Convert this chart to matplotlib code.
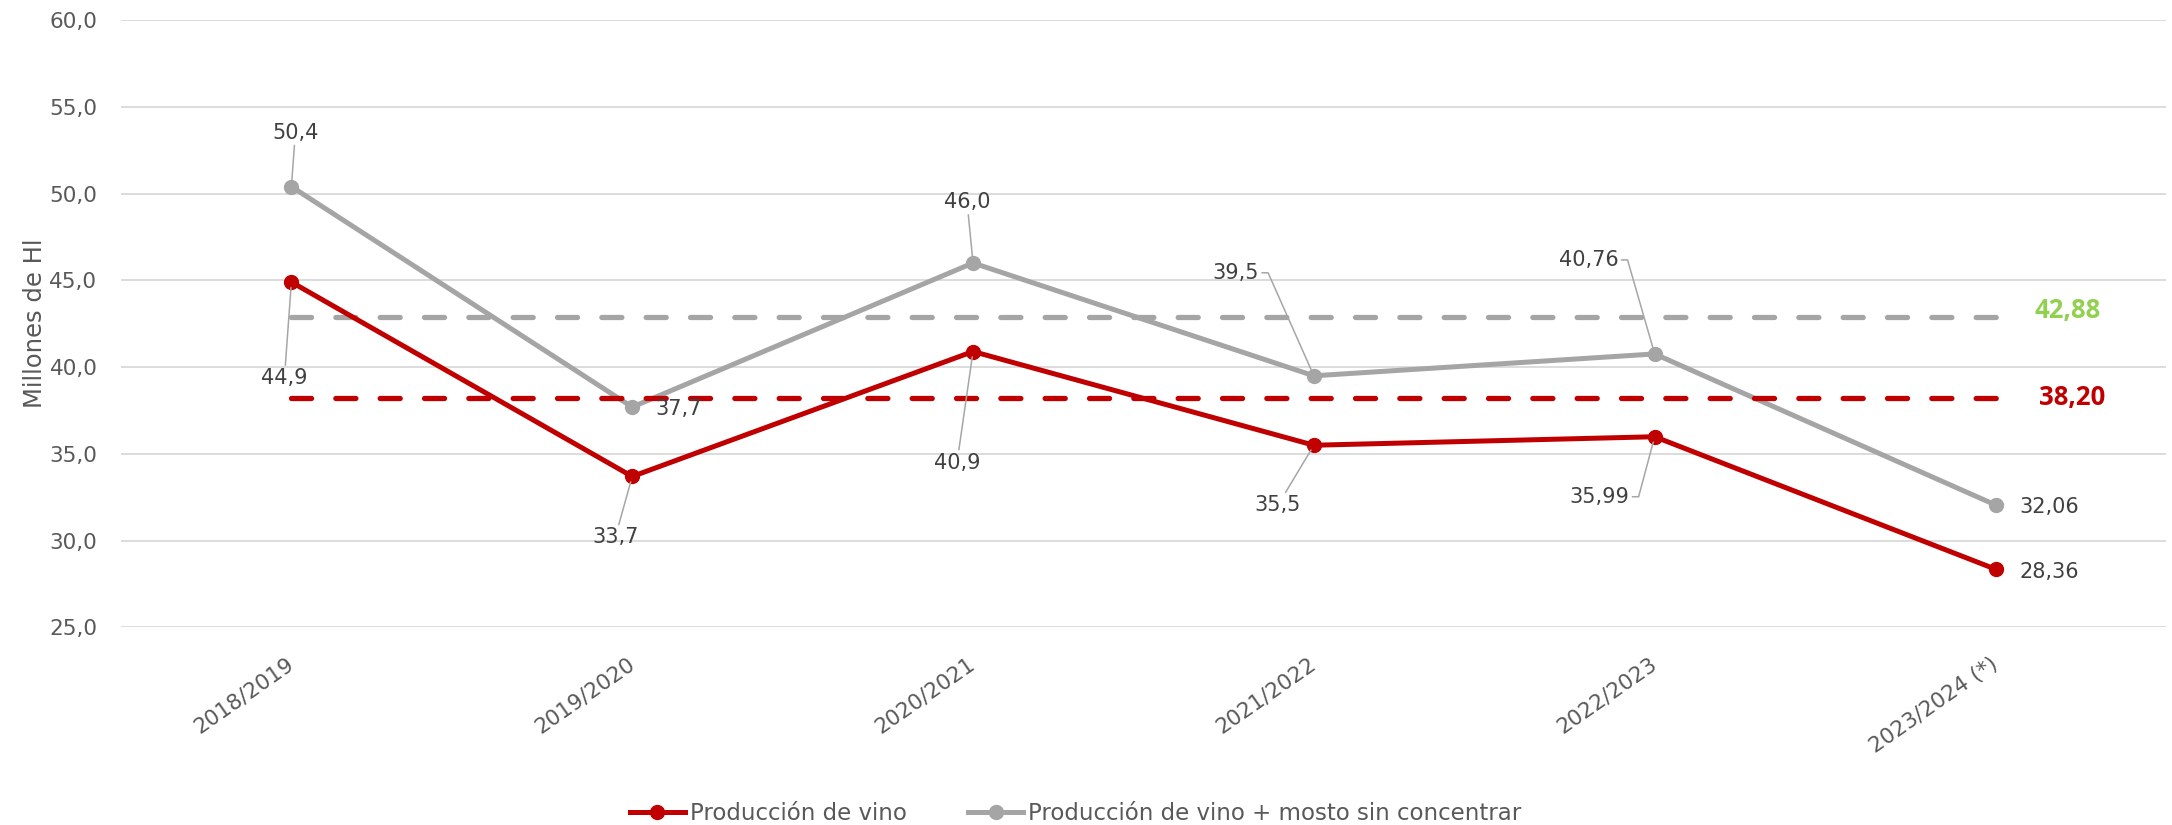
import matplotlib
matplotlib.use("Agg")
import matplotlib.pyplot as plt

# datos (millones de hl)
campaigns = ["2018/2019", "2019/2020", "2020/2021", "2021/2022", "2022/2023", "2023/2024 (*)"]
vino = [44.9, 33.7, 40.9, 35.5, 35.99, 28.36]
vino_mosto = [50.4, 37.7, 46.0, 39.5, 40.76, 32.06]
vino_labels = ["44,9", "33,7", "40,9", "35,5", "35,99", "28,36"]
vino_mosto_labels = ["50,4", "37,7", "46,0", "39,5", "40,76", "32,06"]
media_vino = 38.20
media_vino_mosto = 42.88
media_vino_label = "38,20"
media_vino_mosto_label = "42,88"
y_ticks = [25, 30, 35, 40, 45, 50, 55, 60]
y_tick_labels = ["25,0", "30,0", "35,0", "40,0", "45,0", "50,0", "55,0", "60,0"]

RED = "#C00000"
GREY = "#A5A5A5"
GREEN = "#92D050"
TXT = "#404040"
TICK = "#595959"
LEADER = "#A6A6A6"

# label offsets in pixels (dx, dy) and leader type
vino_offsets = [(-7, -96), (-17, -61), (-16, -111), (-36, -60), (-55, -60), (54, -3)]
vino_leaders = ["line", "line", "line", "line", "elbow", None]
mosto_offsets = [(4, 54), (46, -2), (-6, 61), (-78, 103), (-66, 94), (54, -2)]
mosto_leaders = ["line", None, "line", "elbow", "elbow", None]

fig = plt.figure(figsize=(21.72, 8.25), dpi=100)
ax = fig.add_axes([0.0557, 0.2394, 0.9415, 0.7364])

x = list(range(len(campaigns)))

ax.plot(x, vino_mosto, color=GREY, lw=3.6, marker="o", ms=10, zorder=2,
        label="Producción de vino + mosto sin concentrar")
ax.plot(x, [media_vino_mosto] * len(x), color=GREY, lw=3.8, dashes=(3.8, 4.6),
        dash_capstyle="round", zorder=3)
ax.plot(x, vino, color=RED, lw=3.6, marker="o", ms=10, zorder=4,
        label="Producción de vino")
ax.plot(x, [media_vino] * len(x), color=RED, lw=3.8, dashes=(3.8, 4.6),
        dash_capstyle="round", zorder=5)

ax.set_xlim(-0.5, len(x) - 0.5)
ax.set_ylim(25, 60)
ax.set_yticks(y_ticks)
ax.set_yticklabels(y_tick_labels)
ax.set_xticks(x)
ax.set_xticklabels(campaigns, rotation=35, ha="right", va="center",
                   rotation_mode="anchor")
ax.tick_params(axis="both", length=0, labelsize=15.5, labelcolor=TICK)
ax.tick_params(axis="y", pad=17)
ax.tick_params(axis="x", pad=25)
ax.grid(axis="y", color="#D9D9D9", lw=1.3)
ax.set_axisbelow(True)
for s in ax.spines.values():
    s.set_visible(False)

ax.set_ylabel("Millones de Hl", fontsize=17.5, color=TICK)
ax.yaxis.set_label_coords(-0.036, 0.5)


def put_labels(vals, labels, offsets, leaders):
    for i, (v, lab, off, ld) in enumerate(zip(vals, labels, offsets, leaders)):
        kw = {}
        if ld == "line":
            kw["arrowprops"] = dict(arrowstyle="-", color=LEADER, lw=1.1,
                                    shrinkA=0, shrinkB=4)
        elif ld == "elbow":
            kw["arrowprops"] = dict(arrowstyle="-", color=LEADER, lw=1.1,
                                    shrinkA=0, shrinkB=4, relpos=(1, 0.5),
                                    connectionstyle="arc,angleA=0,angleB=0,armA=9,armB=0,rad=0")
        ax.annotate(lab, xy=(i, v), xytext=off, textcoords="offset pixels",
                    ha="center", va="center", fontsize=15, color=TXT,
                    zorder=6, **kw)


put_labels(vino_mosto, vino_mosto_labels, mosto_offsets, mosto_leaders)
put_labels(vino, vino_labels, vino_offsets, vino_leaders)

ax.annotate(media_vino_mosto_label, xy=(x[-1], media_vino_mosto), xytext=(72, 7),
            textcoords="offset pixels", ha="center", va="center",
            fontsize=18.5, fontweight="bold", family=["Open Sans", "DejaVu Sans"],
            color=GREEN)
ax.annotate(media_vino_label, xy=(x[-1], media_vino), xytext=(77, 1),
            textcoords="offset pixels", ha="center", va="center",
            fontsize=18.5, fontweight="bold", family=["Open Sans", "DejaVu Sans"],
            color=RED)

h, l = ax.get_legend_handles_labels()
fig.legend(h[::-1], l[::-1], loc="center", bbox_to_anchor=(0.4952, 0.0145), ncol=2,
           frameon=False, fontsize=16.5, labelcolor=TICK, handlelength=2.4,
           handletextpad=0.2, columnspacing=2.7)

fig.savefig("out.png", dpi=100)
